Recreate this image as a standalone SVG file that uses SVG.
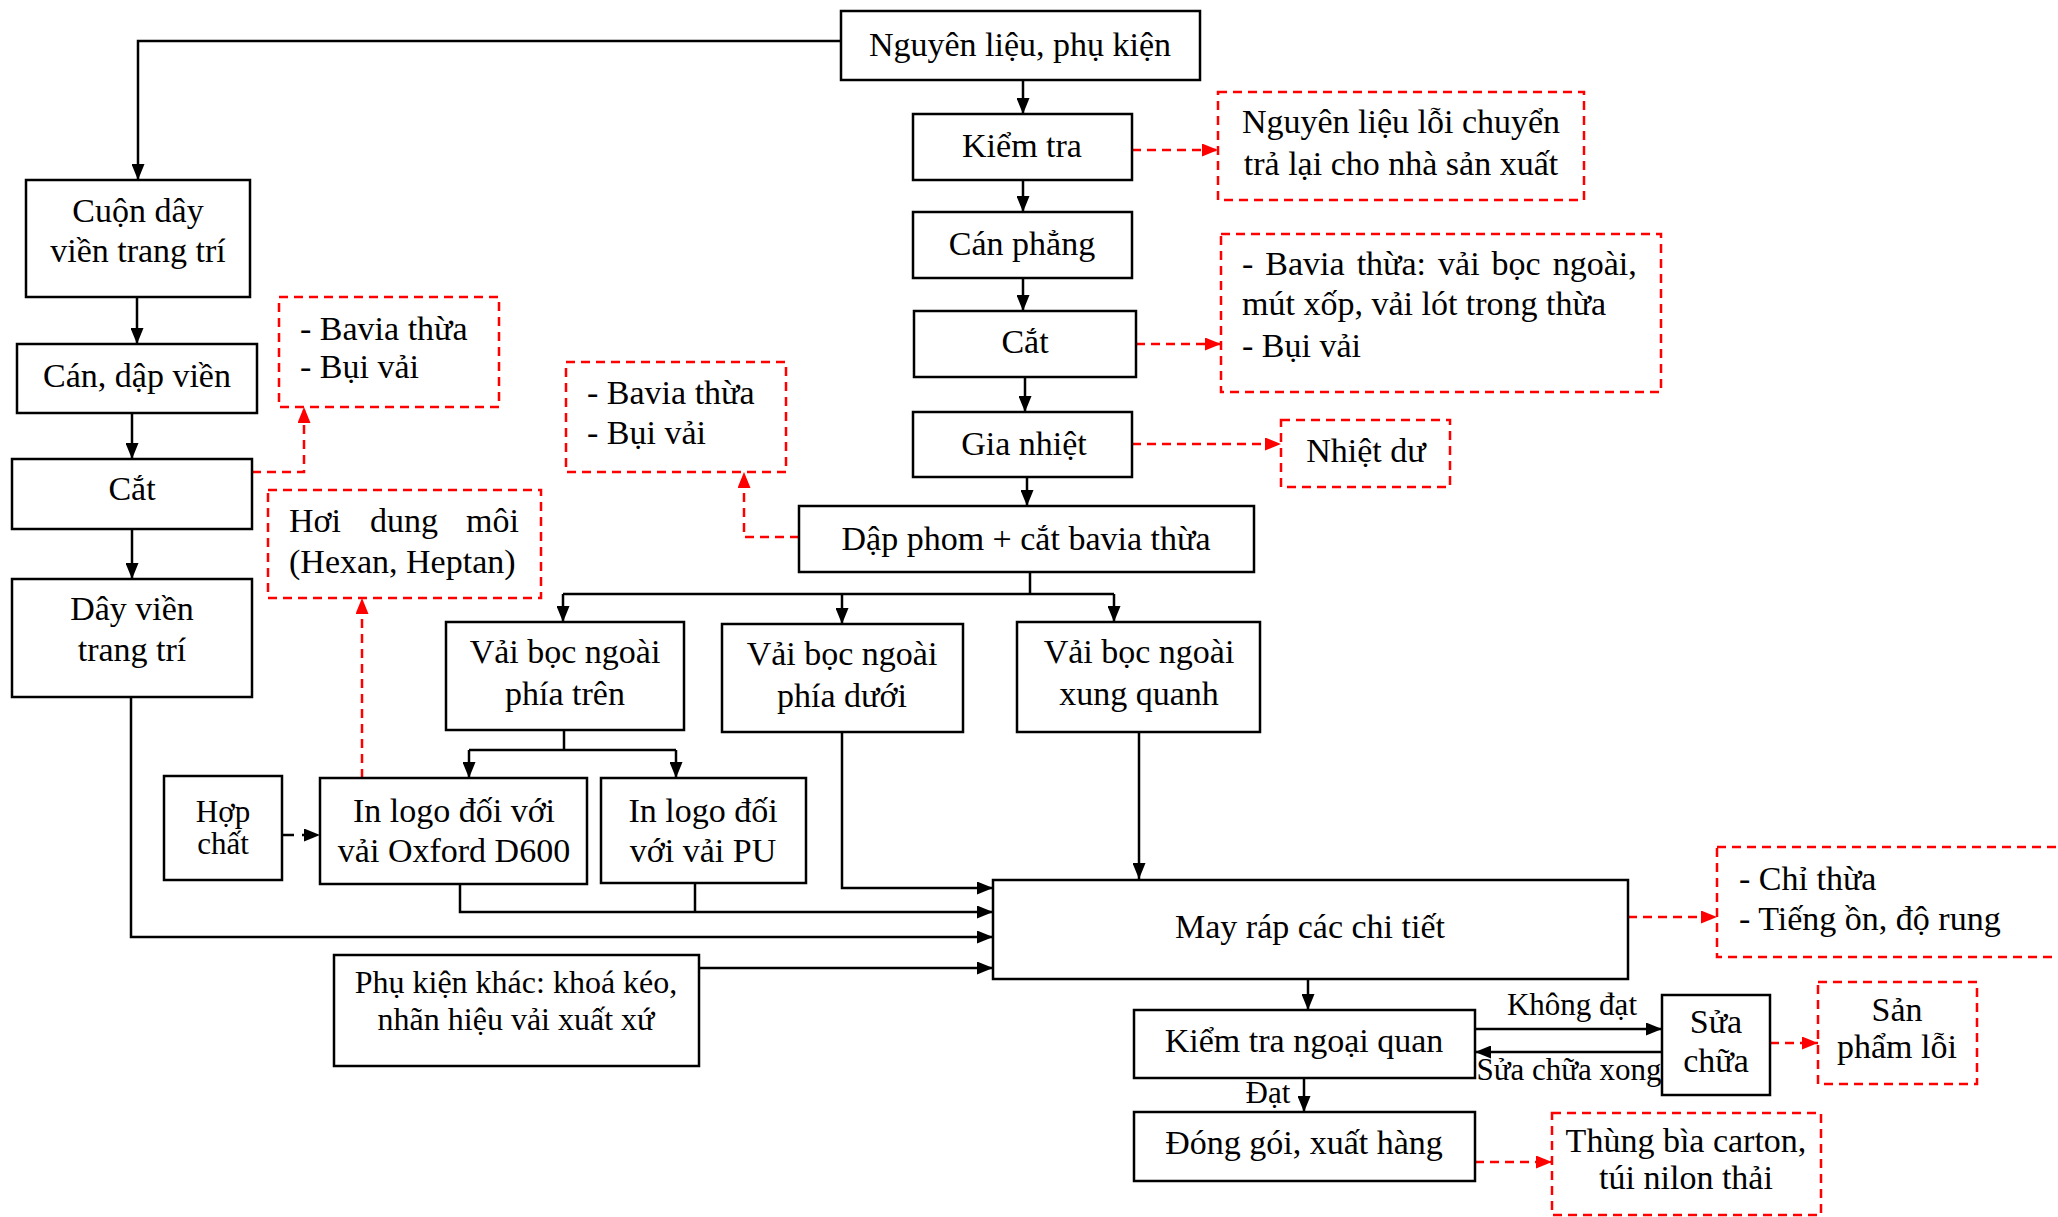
<svg xmlns="http://www.w3.org/2000/svg" width="2058" height="1217" viewBox="0 0 2058 1217">
<style>
  .box{fill:#fff;stroke:#000;stroke-width:2.5}
  .rbox{fill:none;stroke:#f00;stroke-width:2.5;stroke-dasharray:9,6}
  text{font-family:"Liberation Serif","Times New Roman",serif;font-size:34px;fill:#000}
  .c{text-anchor:middle}
  .ln{fill:none;stroke:#000;stroke-width:2.5}
  .rl{fill:none;stroke:#f00;stroke-width:2.5;stroke-dasharray:9,6}
</style>
<defs>
  <marker id="ah" markerWidth="16" markerHeight="13" refX="16" refY="6.5" orient="auto" markerUnits="userSpaceOnUse"><path d="M0,0 L16,6.5 L0,13 z" fill="#000"/></marker>
  <marker id="rh" markerWidth="16" markerHeight="13" refX="16" refY="6.5" orient="auto" markerUnits="userSpaceOnUse"><path d="M0,0 L16,6.5 L0,13 z" fill="#f00"/></marker>
</defs>

<g id="connectors">
  <path class="ln" d="M841,41 H138 V180" marker-end="url(#ah)"/>
  <path class="ln" d="M1023,81 V114" marker-end="url(#ah)"/>
  <path class="ln" d="M1023,180 V212" marker-end="url(#ah)"/>
  <path class="ln" d="M1023,278 V311" marker-end="url(#ah)"/>
  <path class="ln" d="M1025,377 V412" marker-end="url(#ah)"/>
  <path class="ln" d="M1027,477 V506" marker-end="url(#ah)"/>
  <path class="ln" d="M1030,572 V594 M563,594 H1114"/>
  <path class="ln" d="M563,594 V622" marker-end="url(#ah)"/>
  <path class="ln" d="M842,594 V624" marker-end="url(#ah)"/>
  <path class="ln" d="M1114,594 V622" marker-end="url(#ah)"/>
  <path class="ln" d="M137,297 V344" marker-end="url(#ah)"/>
  <path class="ln" d="M132,413 V459" marker-end="url(#ah)"/>
  <path class="ln" d="M132,529 V579" marker-end="url(#ah)"/>
  <path class="ln" d="M131,697 V937 H993" marker-end="url(#ah)"/>
  <path class="ln" d="M564,730 V750 M469,750 H676"/>
  <path class="ln" d="M469,750 V778" marker-end="url(#ah)"/>
  <path class="ln" d="M676,750 V778" marker-end="url(#ah)"/>
  <path class="ln" d="M460,884 V912 H993" marker-end="url(#ah)"/>
  <path class="ln" d="M695,883 V912"/>
  <path class="ln" d="M842,732 V888 H993" marker-end="url(#ah)"/>
  <path class="ln" d="M1139,732 V879" marker-end="url(#ah)"/>
  <path class="ln" d="M699,968 H993" marker-end="url(#ah)"/>
  <path class="ln" d="M282,835 H320" stroke-dasharray="12,8" marker-end="url(#ah)"/>
  <path class="ln" d="M1308,979 V1010" marker-end="url(#ah)"/>
  <path class="ln" d="M1475,1029 H1662" marker-end="url(#ah)"/>
  <path class="ln" d="M1662,1052 H1475" marker-end="url(#ah)"/>
  <path class="ln" d="M1304,1078 V1112" marker-end="url(#ah)"/>

  <path class="rl" d="M1132,150 H1218" marker-end="url(#rh)"/>
  <path class="rl" d="M1136,344 H1221" marker-end="url(#rh)"/>
  <path class="rl" d="M1132,444 H1281" marker-end="url(#rh)"/>
  <path class="rl" d="M799,537 H744 V472" marker-end="url(#rh)"/>
  <path class="rl" d="M252,472 H304 V407" marker-end="url(#rh)"/>
  <path class="rl" d="M362,778 V598" marker-end="url(#rh)"/>
  <path class="rl" d="M1628,917 H1717" marker-end="url(#rh)"/>
  <path class="rl" d="M1770,1043 H1818" marker-end="url(#rh)"/>
  <path class="rl" d="M1475,1162 H1552" marker-end="url(#rh)"/>
</g>

<g id="n-nguyenlieu"><rect class="box" x="841" y="11" width="359" height="69"/><text class="c" x="1020" y="56">Nguyên liệu, phụ kiện</text></g>
<g id="n-kiemtra"><rect class="box" x="913" y="114" width="219" height="66"/><text class="c" x="1022" y="157">Kiểm tra</text></g>
<g id="n-canphang"><rect class="box" x="913" y="212" width="219" height="66"/><text class="c" x="1022" y="255">Cán phẳng</text></g>
<g id="n-cat"><rect class="box" x="914" y="311" width="222" height="66"/><text class="c" x="1025" y="353">Cắt</text></g>
<g id="n-gianhiet"><rect class="box" x="913" y="412" width="219" height="65"/><text class="c" x="1024" y="455">Gia nhiệt</text></g>
<g id="n-dapphom"><rect class="box" x="799" y="506" width="455" height="66"/><text class="c" x="1026" y="550">Dập phom + cắt bavia thừa</text></g>

<g id="n-cuonday"><rect class="box" x="26" y="180" width="224" height="117"/><text class="c" x="138" y="222">Cuộn dây</text><text class="c" x="138" y="262">viền trang trí</text></g>
<g id="n-candap"><rect class="box" x="17" y="344" width="240" height="69"/><text class="c" x="137" y="387">Cán, dập viền</text></g>
<g id="n-cat2"><rect class="box" x="12" y="459" width="240" height="70"/><text class="c" x="132" y="500">Cắt</text></g>
<g id="n-dayvien"><rect class="box" x="12" y="579" width="240" height="118"/><text class="c" x="132" y="620">Dây viền</text><text class="c" x="132" y="661">trang trí</text></g>

<g id="n-phiatren"><rect class="box" x="446" y="622" width="238" height="108"/><text class="c" x="565" y="663">Vải bọc ngoài</text><text class="c" x="565" y="705">phía trên</text></g>
<g id="n-phiaduoi"><rect class="box" x="722" y="624" width="241" height="108"/><text class="c" x="842" y="665">Vải bọc ngoài</text><text class="c" x="842" y="707">phía dưới</text></g>
<g id="n-xungquanh"><rect class="box" x="1017" y="622" width="243" height="110"/><text class="c" x="1139" y="663">Vải bọc ngoài</text><text class="c" x="1139" y="705">xung quanh</text></g>

<g id="n-hopchat"><rect class="box" x="164" y="776" width="118" height="104"/><text class="c" x="223" y="822" style="font-size:31px">Hợp</text><text class="c" x="223" y="854" style="font-size:31px">chất</text></g>
<g id="n-oxford"><rect class="box" x="320" y="778" width="267" height="106"/><text class="c" x="454" y="822">In logo đối với</text><text class="c" x="454" y="862">vải Oxford D600</text></g>
<g id="n-pu"><rect class="box" x="601" y="778" width="205" height="105"/><text class="c" x="703" y="822">In logo đối</text><text class="c" x="703" y="862">với vải PU</text></g>

<g id="n-mayrap"><rect class="box" x="993" y="880" width="635" height="99"/><text class="c" x="1310" y="938">May ráp các chi tiết</text></g>
<g id="n-phukien"><rect class="box" x="334" y="955" width="365" height="111"/><text class="c" x="516" y="993" style="font-size:32px">Phụ kiện khác: khoá kéo,</text><text class="c" x="516" y="1030" style="font-size:32px">nhãn hiệu vải xuất xứ</text></g>
<g id="n-ktnq"><rect class="box" x="1134" y="1010" width="341" height="68"/><text class="c" x="1304" y="1052">Kiểm tra ngoại quan</text></g>
<g id="n-suachua"><rect class="box" x="1662" y="995" width="108" height="100"/><text class="c" x="1716" y="1033">Sửa</text><text class="c" x="1716" y="1072">chữa</text></g>
<g id="n-donggoi"><rect class="box" x="1134" y="1112" width="341" height="69"/><text class="c" x="1304" y="1154">Đóng gói, xuất hàng</text></g>

<g id="labels">
  <text class="c" x="1572" y="1015" style="font-size:31px">Không đạt</text>
  <text class="c" x="1569" y="1080" style="font-size:31px">Sửa chữa xong</text>
  <text class="c" x="1268" y="1103" style="font-size:31px">Đạt</text>
</g>

<g id="w-nllo"><rect class="rbox" x="1218" y="92" width="366" height="108"/><text class="c" x="1401" y="133">Nguyên liệu lỗi chuyển</text><text class="c" x="1401" y="175">trả lại cho nhà sản xuất</text></g>
<g id="w-bavia-big"><rect class="rbox" x="1221" y="234" width="440" height="158"/><text x="1242" y="275" style="word-spacing:3.5px">- Bavia thừa: vải bọc ngoài,</text><text x="1242" y="315">mút xốp, vải lót trong thừa</text><text x="1242" y="357">- Bụi vải</text></g>
<g id="w-nhietdu"><rect class="rbox" x="1281" y="420" width="169" height="67"/><text class="c" x="1366" y="462">Nhiệt dư</text></g>
<g id="w-bavia2"><rect class="rbox" x="566" y="362" width="220" height="110"/><text x="587" y="404">- Bavia thừa</text><text x="587" y="444">- Bụi vải</text></g>
<g id="w-bavia1"><rect class="rbox" x="279" y="297" width="220" height="110"/><text x="300" y="340">- Bavia thừa</text><text x="300" y="378">- Bụi vải</text></g>
<g id="w-hoi"><rect class="rbox" x="268" y="490" width="273" height="108"/><text y="532"><tspan x="289">Hơi</tspan><tspan x="370">dung</tspan><tspan x="519" text-anchor="end">môi</tspan></text><text x="289" y="573">(Hexan, Heptan)</text></g>
<g id="w-chithua"><rect class="rbox" x="1717" y="847" width="360" height="110"/><text x="1739" y="890">- Chỉ thừa</text><text x="1739" y="930">- Tiếng ồn, độ rung</text></g>
<g id="w-sploi"><rect class="rbox" x="1818" y="982" width="159" height="102"/><text class="c" x="1897" y="1021">Sản</text><text class="c" x="1897" y="1058">phẩm lỗi</text></g>
<g id="w-thung"><rect class="rbox" x="1552" y="1113" width="269" height="102"/><text class="c" x="1686" y="1152">Thùng bìa carton,</text><text class="c" x="1686" y="1189">túi nilon thải</text></g>
</svg>
